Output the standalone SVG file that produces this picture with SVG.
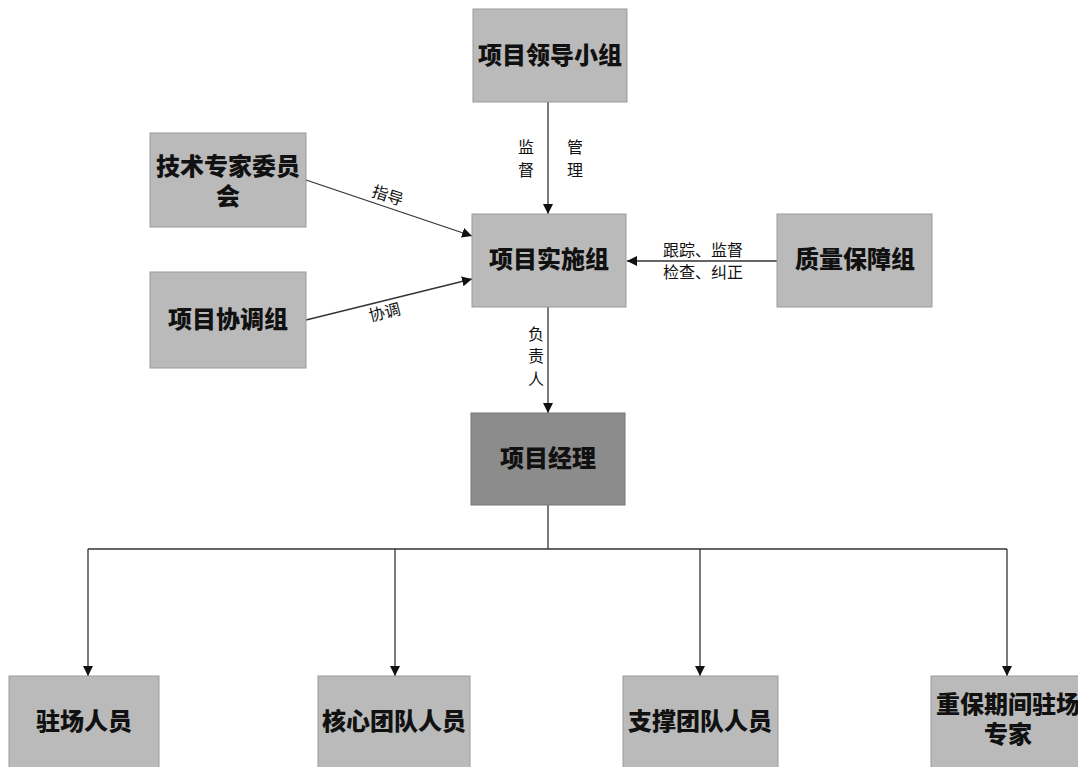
<svg xmlns="http://www.w3.org/2000/svg" width="1078" height="767" viewBox="0 0 1078 767">
<style>
.box{fill:#bababa;stroke:#9a9a9a;stroke-width:1}
.dark{fill:#8c8c8c;stroke:#777;stroke-width:1}
.t{font-family:"Noto Sans CJK SC","Noto Sans",sans-serif;font-size:24px;font-weight:900;fill:#111;text-anchor:middle}
.l{font-family:"Noto Sans CJK SC","Noto Sans",sans-serif;font-size:16px;fill:#111;text-anchor:middle}
.c{stroke:#333;stroke-width:1.3;fill:none}
</style>
<defs>
<marker id="ar" viewBox="0 0 10 10" refX="10" refY="5" markerWidth="10" markerHeight="10" markerUnits="userSpaceOnUse" orient="auto">
<path d="M0,0 L10,5 L0,10 z" fill="#111"/>
</marker>
</defs>
<rect width="1078" height="767" fill="#fff"/>
<g id="connectors">
<line class="c" x1="548" y1="102" x2="548" y2="214" marker-end="url(#ar)"/>
<line class="c" x1="306" y1="180" x2="472" y2="236" marker-end="url(#ar)"/>
<line class="c" x1="306" y1="320" x2="472" y2="279" marker-end="url(#ar)"/>
<line class="c" x1="777" y1="261" x2="627" y2="261" marker-end="url(#ar)"/>
<line class="c" x1="548" y1="307" x2="548" y2="413" marker-end="url(#ar)"/>
<line class="c" x1="548" y1="505" x2="548" y2="549"/>
<line class="c" x1="88" y1="549" x2="1007" y2="549"/>
<line class="c" x1="88" y1="549" x2="88" y2="676" marker-end="url(#ar)"/>
<line class="c" x1="395" y1="549" x2="395" y2="676" marker-end="url(#ar)"/>
<line class="c" x1="700" y1="549" x2="700" y2="676" marker-end="url(#ar)"/>
<line class="c" x1="1007" y1="549" x2="1007" y2="676" marker-end="url(#ar)"/>
<text class="l" x="526" y="153">监</text>
<text class="l" x="526" y="176">督</text>
<text class="l" x="575" y="153">管</text>
<text class="l" x="575" y="176">理</text>
<text class="l" transform="translate(386,201) rotate(18)">指导</text>
<text class="l" transform="translate(386,318) rotate(-14)">协调</text>
<text class="l" x="703" y="256">跟踪、监督</text>
<text class="l" x="703" y="278">检查、纠正</text>
<text class="l" x="536" y="340">负</text>
<text class="l" x="536" y="362">责</text>
<text class="l" x="536" y="385">人</text>
</g>
<g id="n_lead"><rect class="box" x="473" y="9" width="154" height="93"/><text class="t" x="550" y="64">项目领导小组</text></g>
<g id="n_tech"><rect class="box" x="150" y="133" width="156" height="94"/><text class="t"><tspan x="228" y="175">技术专家委员</tspan><tspan x="228" y="205">会</tspan></text></g>
<g id="n_coord"><rect class="box" x="150" y="272" width="156" height="96"/><text class="t" x="228" y="328">项目协调组</text></g>
<g id="n_impl"><rect class="box" x="472" y="214" width="154" height="93"/><text class="t" x="549" y="268">项目实施组</text></g>
<g id="n_qa"><rect class="box" x="777" y="214" width="155" height="93"/><text class="t" x="855" y="268">质量保障组</text></g>
<g id="n_pm"><rect class="dark" x="471" y="413" width="154" height="92"/><text class="t" x="548" y="467">项目经理</text></g>
<g id="n_onsite"><rect class="box" x="9" y="676" width="150" height="100"/><text class="t" x="84" y="730">驻场人员</text></g>
<g id="n_core"><rect class="box" x="318" y="676" width="152" height="100"/><text class="t" x="394" y="730">核心团队人员</text></g>
<g id="n_support"><rect class="box" x="623" y="676" width="155" height="100"/><text class="t" x="700" y="730">支撑团队人员</text></g>
<g id="n_expert"><rect class="box" x="931" y="676" width="155" height="100"/><text class="t"><tspan x="1008" y="713">重保期间驻场</tspan><tspan x="1008" y="743">专家</tspan></text></g>
</svg>
